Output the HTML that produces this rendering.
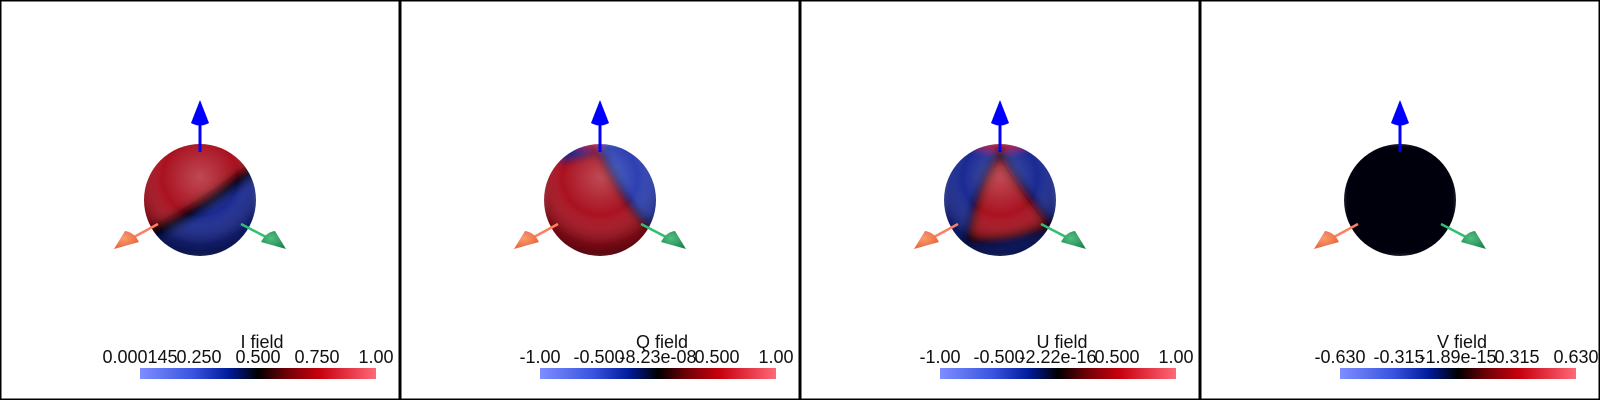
<!DOCTYPE html>
<html><head><meta charset="utf-8"><style>
html,body{margin:0;padding:0;background:#fff;}
svg{display:block;font-family:"Liberation Sans",Arial,sans-serif;}
</style></head><body>
<svg id="root" width="1600" height="400" viewBox="0 0 1600 400">
<defs>
  <linearGradient id="cmap" x1="0" x2="1" y1="0" y2="0">
    <stop offset="0" stop-color="#7d8eff"/>
    <stop offset="0.22" stop-color="#3a55e0"/>
    <stop offset="0.38" stop-color="#001a98"/>
    <stop offset="0.5" stop-color="#000000"/>
    <stop offset="0.62" stop-color="#700008"/>
    <stop offset="0.76" stop-color="#c8000e"/>
    <stop offset="1" stop-color="#ff6878"/>
  </linearGradient>
  <radialGradient id="shade" cx="0.5" cy="0.3" r="0.75">
    <stop offset="0" stop-color="#fff" stop-opacity="0.25"/>
    <stop offset="0.45" stop-color="#fff" stop-opacity="0.02"/>
    <stop offset="0.8" stop-color="#000" stop-opacity="0.3"/>
    <stop offset="1" stop-color="#000" stop-opacity="0.6"/>
  </radialGradient>
  <filter id="blur" x="-20%" y="-20%" width="140%" height="140%"><feGaussianBlur stdDeviation="4"/></filter>
  <radialGradient id="orangeCone" cx="0.4" cy="0.4" r="0.7"><stop offset="0" stop-color="#ff9a70"/><stop offset="1" stop-color="#e0603a"/></radialGradient>
  <radialGradient id="greenCone" cx="0.4" cy="0.4" r="0.7"><stop offset="0" stop-color="#50c080"/><stop offset="1" stop-color="#208050"/></radialGradient>
</defs>
</svg>
<script>
const titles = ["I field","Q field","U field","V field"];
const tickLabels = [
  ["0.000145","0.250","0.500","0.750","1.00"],
  ["-1.00","-0.500","-8.23e-08","0.500","1.00"],
  ["-1.00","-0.500","-2.22e-16","0.500","1.00"],
  ["-0.630","-0.315","-1.89e-15","0.315","0.630"]
];
const NS="http://www.w3.org/2000/svg";
const root=document.getElementById('root');
function mk(tag,attrs,parent){const e=document.createElementNS(NS,tag);for(const k in attrs)e.setAttribute(k,attrs[k]);(parent||root).appendChild(e);return e;}
const RED="#a80c1a", BLUE="#132690";
const patterns=[
 g=>{mk('rect',{x:140,y:140,width:120,height:120,fill:BLUE},g);
     mk('path',{d:'M130 236 C165 220 200 205 230 182 C245 170 255 164 270 158 L270 130 L130 130 Z',fill:RED},g);
     mk('path',{d:'M140 240 C170 224 200 208 232 184 C245 174 256 168 268 162',stroke:'#000',"stroke-width":14,fill:'none'},g);},
 g=>{mk('rect',{x:140,y:140,width:120,height:120,fill:RED},g);
     mk('path',{d:'M200 152 C212 175 226 205 250 228 L270 228 L270 140 L200 140 Z',fill:'#2a3cb0'},g);
     mk('path',{d:'M200 152 L160 160 L150 140 Z',fill:BLUE},g);
     mk('path',{d:'M200 152 C212 175 226 205 250 228',stroke:'#000',"stroke-width":7,fill:'none'},g);
     mk('path',{d:'M200 152 L160 162',stroke:'#000',"stroke-width":4,fill:'none'},g);},
 g=>{mk('rect',{x:140,y:140,width:120,height:120,fill:BLUE},g);
     mk('path',{d:'M200 152 C182 180 172 210 168 240 C195 244 225 236 252 226 C235 205 215 180 200 152 Z',fill:RED},g);
     mk('path',{d:'M172 146 L200 152 L228 146 L228 140 L172 140 Z',fill:RED},g);
     mk('path',{d:'M200 152 C182 180 172 210 168 240 C195 244 225 236 252 226 C235 205 215 180 200 152 Z',stroke:'#000',"stroke-width":8,fill:'none'},g);},
 g=>{mk('rect',{x:140,y:140,width:120,height:120,fill:'#020208'},g);}
];
for(let p=0;p<4;p++){
  const ox=p*400;
  const panel=mk('g',{transform:`translate(${ox},0)`});
  
  
  const clip=mk('clipPath',{id:'clip'+p},root.querySelector('defs'));
  mk('circle',{cx:200,cy:200,r:56},clip);
  const sph=mk('g',{"clip-path":`url(#clip${p})`},panel);
  
  
  const inner=mk('g',{filter:'url(#blur)'},sph);
  patterns[p](inner);
  if(p<3) mk('circle',{cx:200,cy:200,r:56,fill:'url(#shade)'},sph);
  const ax=mk('g',{},panel);
  
  
  mk('line',{x1:200,y1:152,x2:200,y2:124,stroke:'#0000ff',"stroke-width":3},ax);
  mk('path',{d:'M200 100 L191 123 Q200 128 209 123 Z',fill:'#0000ff'},ax);
  mk('line',{x1:158,y1:224,x2:134,y2:237,stroke:'#ff8060',"stroke-width":2.5},ax);
  mk('path',{d:'M114 249 L125 231 Q134 232 139 242 Z',fill:'url(#orangeCone)'},ax);
  mk('line',{x1:241,y1:224,x2:266,y2:237,stroke:'#30c070',"stroke-width":2.5},ax);
  mk('path',{d:'M286 249 L275 231 Q266 232 261 242 Z',fill:'url(#greenCone)'},ax);
  const cb=mk('g',{},panel);
  
  
  const bx=140,bw=236;
  mk('rect',{x:bx,y:368,width:bw,height:11,fill:'url(#cmap)'},cb);
  const t=mk('text',{x:262,y:348,"text-anchor":'middle',"font-size":18,fill:'#111'},cb);
  t.textContent=titles[p];
  
  
  tickLabels[p].forEach((lab,i)=>{
    const x=bx+bw*i/(tickLabels[p].length-1);
    const tx=mk('text',{x:x,y:363,"text-anchor":'middle',"font-size":18,fill:'#111'},cb);
    tx.textContent=lab;
    
    
  });
  const br=mk('rect',{x:0.75,y:0.75,width:398.5,height:398.5,fill:'none',stroke:'#000',"stroke-width":1.5},panel);
  
  
}
</script>
</body></html>
